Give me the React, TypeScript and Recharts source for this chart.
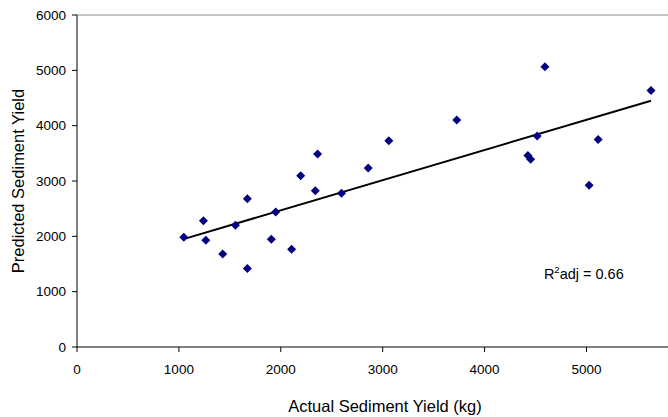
import { ScatterChart, Scatter, XAxis, YAxis, ReferenceLine, ReferenceDot } from 'recharts'

const actual = [
  1048, 1241, 1264, 1430, 1555, 1672, 1672, 1950, 1907, 2106, 2195, 2361,
  2339, 2596, 2858, 3060, 3727, 4592, 4425, 4452, 4516, 5114, 5026, 5633,
]
const predicted = [
  1983, 2280, 1930, 1682, 2201, 1417, 2677, 2442, 1948, 1767, 3093, 3486,
  2822, 2780, 3233, 3726, 4101, 5065, 3461, 3395, 3811, 3750, 2925, 4637,
]
const trendX = [1045, 5633]
const trendY = [1950, 4450]
const xTicks = [0, 1000, 2000, 3000, 4000, 5000]
const yTicks = [0, 1000, 2000, 3000, 4000, 5000, 6000]

const points = actual.map((x, i) => ({ x, y: predicted[i] }))
const trend = trendX.map((x, i) => ({ x, y: trendY[i] }))

const FONT = 'Liberation Sans, Arial, sans-serif'
const tickStyle = { fill: '#000', fontSize: 13.5, fontFamily: FONT }

function Diamond(props: any) {
  const { cx, cy } = props
  const r = 4.5
  return (
    <polygon
      points={`${cx},${cy - r} ${cx + r},${cy} ${cx},${cy + r} ${cx - r},${cy}`}
      fill="#000080"
    />
  )
}

function YLabel(props: any) {
  const { viewBox } = props
  const cx = viewBox.x + 17.5
  const cy = viewBox.y + viewBox.height / 2
  return (
    <text
      x={cx} y={cy} transform={`rotate(-90 ${cx} ${cy})`}
      textAnchor="middle" dominantBaseline="central"
      fontSize={16.5} fontFamily={FONT} fill="#000"
    >
      Predicted Sediment Yield
    </text>
  )
}

function XLabel(props: any) {
  const { viewBox } = props
  return (
    <text
      x={viewBox.x + 308} y={viewBox.y + 59}
      textAnchor="middle" dominantBaseline="central"
      fontSize={16.5} fontFamily={FONT} fill="#000"
    >
      Actual Sediment Yield (kg)
    </text>
  )
}

function R2Label(props: any) {
  const { viewBox } = props
  return (
    <text x={viewBox.x} y={viewBox.y} fontSize={14.5} fontFamily={FONT} fill="#000">
      R<tspan dy={-6} fontSize={9.5}>2</tspan>
      <tspan dy={6}>adj = 0.66</tspan>
    </text>
  )
}

export default function App() {
  return (
    <div style={{ position: 'absolute', left: 0, top: 0, background: '#fff' }}>
      <ScatterChart
        width={668}
        height={417}
        margin={{ top: 15, right: 0, left: 0, bottom: 0 }}
      >
        <ReferenceLine y={6000} stroke="#8c8c8c" strokeWidth={1} />
        <XAxis
          type="number"
          dataKey="x"
          domain={[0, 5800]}
          ticks={xTicks}
          height={70}
          tick={tickStyle}
          tickSize={5}
          tickMargin={12}
          axisLine={{ stroke: '#000' }}
          tickLine={{ stroke: '#000' }}
          label={{ content: <XLabel /> }}
        />
        <YAxis
          type="number"
          dataKey="y"
          domain={[0, 6000]}
          ticks={yTicks}
          width={77}
          tick={tickStyle}
          tickSize={5}
          tickMargin={6}
          axisLine={{ stroke: '#000' }}
          tickLine={{ stroke: '#000' }}
          label={{ content: <YLabel /> }}
        />
        <Scatter
          data={trend}
          line={{ stroke: '#000', strokeWidth: 2 }}
          shape={() => <g />}
          isAnimationActive={false}
        />
        <Scatter
          data={points}
          shape={<Diamond />}
          isAnimationActive={false}
        />
        <ReferenceDot x={4582} y={1230} r={0} stroke="none" label={{ content: <R2Label /> }} />
      </ScatterChart>
    </div>
  )
}
